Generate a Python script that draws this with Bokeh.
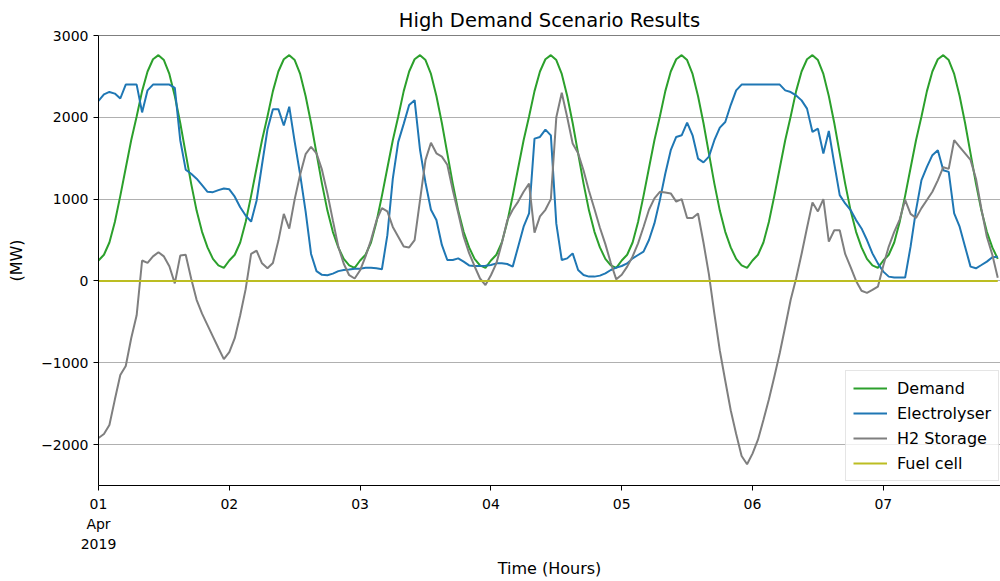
from bokeh.plotting import figure
from bokeh.models import Range1d, FixedTicker, Span, Legend, LegendItem
from bokeh.embed import file_html
from bokeh.resources import INLINE

# Hourly results, 1 Apr 2019 00:00 onwards (MW)
demand = [
    250, 320, 470, 720, 1040, 1380, 1720, 2010, 2320, 2560, 2710, 2760, 2700, 2530, 2260, 1930, 1560, 1190, 860, 600, 410, 270, 190, 160,
    250, 320, 470, 720, 1040, 1380, 1720, 2010, 2320, 2560, 2710, 2760, 2700, 2530, 2260, 1930, 1560, 1190, 860, 600, 410, 270, 190, 160,
    250, 320, 470, 720, 1040, 1380, 1720, 2010, 2320, 2560, 2710, 2760, 2700, 2530, 2260, 1930, 1560, 1190, 860, 600, 410, 270, 190, 160,
    250, 320, 470, 720, 1040, 1380, 1720, 2010, 2320, 2560, 2710, 2760, 2700, 2530, 2260, 1930, 1560, 1190, 860, 600, 410, 270, 190, 160,
    250, 320, 470, 720, 1040, 1380, 1720, 2010, 2320, 2560, 2710, 2760, 2700, 2530, 2260, 1930, 1560, 1190, 860, 600, 410, 270, 190, 160,
    250, 320, 470, 720, 1040, 1380, 1720, 2010, 2320, 2560, 2710, 2760, 2700, 2530, 2260, 1930, 1560, 1190, 860, 600, 410, 270, 190, 160,
    250, 320, 470, 720, 1040, 1380, 1720, 2010, 2320, 2560, 2710, 2760, 2700, 2530, 2260, 1930, 1560, 1190, 860, 600, 410, 270,
]

electrolyser = [
    2200, 2280, 2310, 2290, 2230, 2400, 2400, 2400, 2060, 2330, 2400, 2400, 2400, 2400, 2360, 1720, 1360, 1310, 1250, 1170, 1090, 1085, 1110, 1130,
    1120, 1030, 900, 800, 725, 980, 1420, 1850, 2100, 2100, 1900, 2130, 1700, 1300, 850, 330, 120, 75, 70, 90, 120, 135, 140, 150,
    150, 160, 160, 155, 143, 560, 1250, 1700, 1920, 2150, 2210, 1600, 1200, 870, 744, 440, 256, 256, 276, 236, 190, 183, 183, 187,
    195, 215, 215, 207, 175, 419, 663, 825, 1740, 1760, 1850, 1780, 700, 256, 276, 337, 134, 73, 53, 53, 65, 93, 134, 163,
    183, 215, 276, 317, 358, 500, 703, 988, 1313, 1598, 1760, 1780, 1935, 1780, 1496, 1450, 1520, 1720, 1874, 1943, 2150, 2330, 2400, 2400,
    2400, 2400, 2400, 2400, 2400, 2400, 2329, 2309, 2268, 2207, 2106, 1821, 1862, 1557, 1833, 1435, 1049, 947, 866, 744, 642, 500, 337, 215,
    114, 53, 41, 41, 41, 419, 866, 1232, 1394, 1537, 1598, 1354, 1333, 825, 663, 419, 175, 155, 195, 236, 289, 297,
]

h2_storage = [
    -1920, -1870, -1760, -1450, -1150, -1040, -700, -420, 250, 220, 300, 350, 300, 180, -30, 310, 320, 30, -230, -400, -540, -680, -820, -955,
    -870, -700, -420, -100, 330, 370, 215, 155, 220, 490, 820, 640, 1000, 1300, 1550, 1640, 1560, 1360, 1070, 740, 420, 210, 70, 30,
    130, 300, 500, 740, 890, 850, 660, 540, 420, 410, 500, 990, 1480, 1690, 1560, 1520, 1420, 1110, 830, 540, 340, 180, 30, -50,
    70, 215, 460, 740, 870, 970, 1090, 1190, 590, 790, 870, 1000, 2000, 2300, 2000, 1680, 1560, 1350, 1100, 880, 650, 450, 220, 20,
    75, 175, 300, 460, 660, 870, 1010, 1090, 1080, 1070, 970, 1000, 770, 770, 825, 470, 80, -400, -850, -1220, -1580, -1870, -2140, -2240,
    -2110, -1940, -1700, -1450, -1170, -880, -560, -230, 30, 330, 650, 960, 850, 1000, 480, 620, 620, 330, 170, 0, -120, -145, -110, -70,
    190, 420, 600, 750, 990, 820, 770, 890, 990, 1090, 1230, 1390, 1370, 1720, 1640, 1560, 1480, 1250, 880, 540, 320, 40,
]

fuel_cell = [0] * len(demand)

hours = list(range(len(demand)))

day_ticks = [0, 24, 48, 72, 96, 120, 144]
day_labels = ["01\nApr\n2019", "02", "03", "04", "05", "06", "07"]
y_ticks = [-2000, -1000, 0, 1000, 2000, 3000]
y_labels = ["\u22122000", "\u22121000", "0", "1000", "2000", "3000"]

FONT = "DejaVu Sans"

p = figure(
    width=1000, height=581,
    output_backend="svg", toolbar_location=None,
    x_range=Range1d(0, 165.5), y_range=Range1d(-2500, 3000),
    min_border_left=98, min_border_right=0, min_border_top=35, min_border_bottom=94,
    title="High Demand Scenario Results",
)
p.background_fill_color = "white"
p.border_fill_color = "white"
p.outline_line_color = None

p.title.text_font = FONT
p.title.text_font_size = "19.5px"
p.title.text_font_style = "normal"
p.title.text_color = "black"
p.title.align = "center"
p.title.standoff = 8

# frame top edge
p.add_layout(Span(location=3000, dimension="width", line_color="black", line_width=1))

# axes
for ax in (p.xaxis, p.yaxis):
    ax.axis_line_color = "black"
    ax.axis_line_width = 1
    ax.major_tick_line_color = "black"
    ax.major_tick_out = 5
    ax.major_tick_in = 0
    ax.minor_tick_line_color = None
    ax.major_label_text_font = FONT
    ax.major_label_text_font_size = "14px"
    ax.major_label_text_color = "black"
    ax.major_label_standoff = 5
    ax.axis_label_text_font = FONT
    ax.axis_label_text_font_size = "16px"
    ax.axis_label_text_font_style = "normal"
    ax.axis_label_text_color = "black"

p.xaxis.ticker = FixedTicker(ticks=day_ticks)
p.xaxis.major_label_overrides = dict(zip(day_ticks, day_labels))
p.xaxis.major_label_text_line_height = 1.28
p.xaxis.axis_label = "Time (Hours)"
p.xaxis.axis_label_standoff = 4

p.yaxis.ticker = FixedTicker(ticks=y_ticks)
p.yaxis.major_label_overrides = dict(zip(y_ticks, y_labels))
p.yaxis.axis_label = "(MW)"
p.yaxis.axis_label_standoff = 12

p.xgrid.visible = False
p.ygrid.grid_line_color = "#b0b0b0"
p.ygrid.grid_line_width = 1

r_dem = p.line(hours, demand, line_color="#2ca02c", line_width=2)
r_ele = p.line(hours, electrolyser, line_color="#1f77b4", line_width=2)
r_h2 = p.line(hours, h2_storage, line_color="#7f7f7f", line_width=2)
r_fc = p.line(hours, fuel_cell, line_color="#bcbd22", line_width=2)

legend = Legend(
    items=[
        LegendItem(label="Demand", renderers=[r_dem]),
        LegendItem(label="Electrolyser", renderers=[r_ele]),
        LegendItem(label="H2 Storage", renderers=[r_h2]),
        LegendItem(label="Fuel cell", renderers=[r_fc]),
    ],
    location=(747, 4),
    label_text_font=FONT,
    label_text_font_size="16px",
    label_text_color="black",
    glyph_width=34,
    glyph_height=20,
    label_height=20,
    spacing=5,
    padding=7,
    label_standoff=10,
    margin=0,
    border_line_color="#cccccc",
    border_line_width=1,
    background_fill_color="white",
    background_fill_alpha=0.8,
)
p.add_layout(legend)

open("out.html", "w").write(file_html(p, INLINE))
